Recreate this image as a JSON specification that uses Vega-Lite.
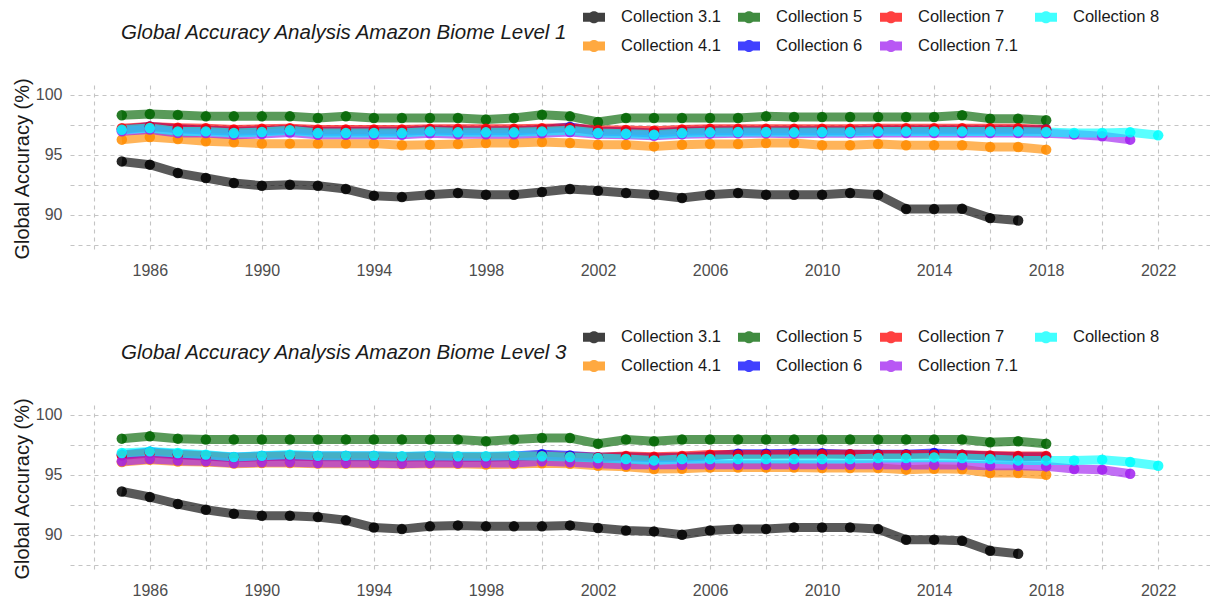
{
"$schema": "https://vega.github.io/schema/vega-lite/v6.json",
"background": "white",
"padding": {"left": 12, "top": 6, "right": 0, "bottom": 0},
"config": {
  "font": "Liberation Sans",
  "view": {"stroke": null},
  "axis": {"domain": false, "ticks": false, "grid": true, "gridColor": "#c4c4c4", "gridDash": [4, 4], "gridWidth": 1.1, "labelFont": "Liberation Sans", "labelFontSize": 16, "labelColor": "#4d4d4d", "titleFont": "Liberation Sans", "titleFontSize": 20, "titleColor": "#1a1a1a", "titleFontWeight": "normal", "labelOverlap": false, "labelFlush": false},
  "title": {"font": "Liberation Sans", "fontSize": 20.5, "fontStyle": "italic", "fontWeight": "normal", "color": "#1a1a1a", "anchor": "start", "frame": "group", "offset": 0, "dx": 51, "dy": 41}
},
"datasets": {
"level1": [
{"series":"Collection 3.1","year":1985,"acc":94.44},{"series":"Collection 3.1","year":1986,"acc":94.17},{"series":"Collection 3.1","year":1987,"acc":93.47},{"series":"Collection 3.1","year":1988,"acc":93.06},{"series":"Collection 3.1","year":1989,"acc":92.64},{"series":"Collection 3.1","year":1990,"acc":92.42},{"series":"Collection 3.1","year":1991,"acc":92.5},{"series":"Collection 3.1","year":1992,"acc":92.42},{"series":"Collection 3.1","year":1993,"acc":92.14},{"series":"Collection 3.1","year":1994,"acc":91.58},{"series":"Collection 3.1","year":1995,"acc":91.47},{"series":"Collection 3.1","year":1996,"acc":91.67},{"series":"Collection 3.1","year":1997,"acc":91.81},{"series":"Collection 3.1","year":1998,"acc":91.67},{"series":"Collection 3.1","year":1999,"acc":91.67},{"series":"Collection 3.1","year":2000,"acc":91.89},{"series":"Collection 3.1","year":2001,"acc":92.14},{"series":"Collection 3.1","year":2002,"acc":92.0},{"series":"Collection 3.1","year":2003,"acc":91.81},{"series":"Collection 3.1","year":2004,"acc":91.67},{"series":"Collection 3.1","year":2005,"acc":91.39},{"series":"Collection 3.1","year":2006,"acc":91.67},{"series":"Collection 3.1","year":2007,"acc":91.81},{"series":"Collection 3.1","year":2008,"acc":91.67},{"series":"Collection 3.1","year":2009,"acc":91.67},{"series":"Collection 3.1","year":2010,"acc":91.67},{"series":"Collection 3.1","year":2011,"acc":91.81},{"series":"Collection 3.1","year":2012,"acc":91.67},{"series":"Collection 3.1","year":2013,"acc":90.47},{"series":"Collection 3.1","year":2014,"acc":90.47},{"series":"Collection 3.1","year":2015,"acc":90.5},{"series":"Collection 3.1","year":2016,"acc":89.72},{"series":"Collection 3.1","year":2017,"acc":89.52},
{"series":"Collection 4.1","year":1985,"acc":96.25},{"series":"Collection 4.1","year":1986,"acc":96.47},{"series":"Collection 4.1","year":1987,"acc":96.31},{"series":"Collection 4.1","year":1988,"acc":96.11},{"series":"Collection 4.1","year":1989,"acc":96.03},{"series":"Collection 4.1","year":1990,"acc":95.92},{"series":"Collection 4.1","year":1991,"acc":95.92},{"series":"Collection 4.1","year":1992,"acc":95.92},{"series":"Collection 4.1","year":1993,"acc":95.92},{"series":"Collection 4.1","year":1994,"acc":95.92},{"series":"Collection 4.1","year":1995,"acc":95.78},{"series":"Collection 4.1","year":1996,"acc":95.83},{"series":"Collection 4.1","year":1997,"acc":95.89},{"series":"Collection 4.1","year":1998,"acc":95.97},{"series":"Collection 4.1","year":1999,"acc":95.97},{"series":"Collection 4.1","year":2000,"acc":96.06},{"series":"Collection 4.1","year":2001,"acc":95.97},{"series":"Collection 4.1","year":2002,"acc":95.83},{"series":"Collection 4.1","year":2003,"acc":95.83},{"series":"Collection 4.1","year":2004,"acc":95.69},{"series":"Collection 4.1","year":2005,"acc":95.83},{"series":"Collection 4.1","year":2006,"acc":95.89},{"series":"Collection 4.1","year":2007,"acc":95.89},{"series":"Collection 4.1","year":2008,"acc":95.97},{"series":"Collection 4.1","year":2009,"acc":95.97},{"series":"Collection 4.1","year":2010,"acc":95.78},{"series":"Collection 4.1","year":2011,"acc":95.78},{"series":"Collection 4.1","year":2012,"acc":95.89},{"series":"Collection 4.1","year":2013,"acc":95.78},{"series":"Collection 4.1","year":2014,"acc":95.78},{"series":"Collection 4.1","year":2015,"acc":95.78},{"series":"Collection 4.1","year":2016,"acc":95.64},{"series":"Collection 4.1","year":2017,"acc":95.64},{"series":"Collection 4.1","year":2018,"acc":95.42},
{"series":"Collection 5","year":1985,"acc":98.28},{"series":"Collection 5","year":1986,"acc":98.39},{"series":"Collection 5","year":1987,"acc":98.31},{"series":"Collection 5","year":1988,"acc":98.19},{"series":"Collection 5","year":1989,"acc":98.19},{"series":"Collection 5","year":1990,"acc":98.19},{"series":"Collection 5","year":1991,"acc":98.19},{"series":"Collection 5","year":1992,"acc":98.06},{"series":"Collection 5","year":1993,"acc":98.19},{"series":"Collection 5","year":1994,"acc":98.06},{"series":"Collection 5","year":1995,"acc":98.06},{"series":"Collection 5","year":1996,"acc":98.06},{"series":"Collection 5","year":1997,"acc":98.06},{"series":"Collection 5","year":1998,"acc":97.92},{"series":"Collection 5","year":1999,"acc":98.06},{"series":"Collection 5","year":2000,"acc":98.33},{"series":"Collection 5","year":2001,"acc":98.19},{"series":"Collection 5","year":2002,"acc":97.72},{"series":"Collection 5","year":2003,"acc":98.06},{"series":"Collection 5","year":2004,"acc":98.06},{"series":"Collection 5","year":2005,"acc":98.06},{"series":"Collection 5","year":2006,"acc":98.06},{"series":"Collection 5","year":2007,"acc":98.06},{"series":"Collection 5","year":2008,"acc":98.19},{"series":"Collection 5","year":2009,"acc":98.14},{"series":"Collection 5","year":2010,"acc":98.14},{"series":"Collection 5","year":2011,"acc":98.14},{"series":"Collection 5","year":2012,"acc":98.14},{"series":"Collection 5","year":2013,"acc":98.14},{"series":"Collection 5","year":2014,"acc":98.14},{"series":"Collection 5","year":2015,"acc":98.28},{"series":"Collection 5","year":2016,"acc":98.0},{"series":"Collection 5","year":2017,"acc":98.0},{"series":"Collection 5","year":2018,"acc":97.86},
{"series":"Collection 6","year":1985,"acc":97.1},{"series":"Collection 6","year":1986,"acc":97.35},{"series":"Collection 6","year":1987,"acc":97.15},{"series":"Collection 6","year":1988,"acc":97.05},{"series":"Collection 6","year":1989,"acc":96.95},{"series":"Collection 6","year":1990,"acc":97.0},{"series":"Collection 6","year":1991,"acc":97.1},{"series":"Collection 6","year":1992,"acc":96.95},{"series":"Collection 6","year":1993,"acc":96.95},{"series":"Collection 6","year":1994,"acc":96.95},{"series":"Collection 6","year":1995,"acc":96.95},{"series":"Collection 6","year":1996,"acc":97.05},{"series":"Collection 6","year":1997,"acc":97.0},{"series":"Collection 6","year":1998,"acc":97.0},{"series":"Collection 6","year":1999,"acc":97.0},{"series":"Collection 6","year":2000,"acc":97.1},{"series":"Collection 6","year":2001,"acc":97.3},{"series":"Collection 6","year":2002,"acc":96.95},{"series":"Collection 6","year":2003,"acc":96.9},{"series":"Collection 6","year":2004,"acc":96.8},{"series":"Collection 6","year":2005,"acc":96.95},{"series":"Collection 6","year":2006,"acc":97.0},{"series":"Collection 6","year":2007,"acc":97.0},{"series":"Collection 6","year":2008,"acc":97.0},{"series":"Collection 6","year":2009,"acc":97.0},{"series":"Collection 6","year":2010,"acc":97.0},{"series":"Collection 6","year":2011,"acc":97.0},{"series":"Collection 6","year":2012,"acc":97.05},{"series":"Collection 6","year":2013,"acc":97.05},{"series":"Collection 6","year":2014,"acc":97.05},{"series":"Collection 6","year":2015,"acc":97.05},{"series":"Collection 6","year":2016,"acc":97.05},{"series":"Collection 6","year":2017,"acc":97.05},{"series":"Collection 6","year":2018,"acc":97.1},
{"series":"Collection 7","year":1985,"acc":97.2},{"series":"Collection 7","year":1986,"acc":97.35},{"series":"Collection 7","year":1987,"acc":97.25},{"series":"Collection 7","year":1988,"acc":97.2},{"series":"Collection 7","year":1989,"acc":97.1},{"series":"Collection 7","year":1990,"acc":97.15},{"series":"Collection 7","year":1991,"acc":97.2},{"series":"Collection 7","year":1992,"acc":97.1},{"series":"Collection 7","year":1993,"acc":97.1},{"series":"Collection 7","year":1994,"acc":97.1},{"series":"Collection 7","year":1995,"acc":97.1},{"series":"Collection 7","year":1996,"acc":97.15},{"series":"Collection 7","year":1997,"acc":97.15},{"series":"Collection 7","year":1998,"acc":97.15},{"series":"Collection 7","year":1999,"acc":97.15},{"series":"Collection 7","year":2000,"acc":97.2},{"series":"Collection 7","year":2001,"acc":97.25},{"series":"Collection 7","year":2002,"acc":97.05},{"series":"Collection 7","year":2003,"acc":97.05},{"series":"Collection 7","year":2004,"acc":97.0},{"series":"Collection 7","year":2005,"acc":97.1},{"series":"Collection 7","year":2006,"acc":97.15},{"series":"Collection 7","year":2007,"acc":97.15},{"series":"Collection 7","year":2008,"acc":97.15},{"series":"Collection 7","year":2009,"acc":97.15},{"series":"Collection 7","year":2010,"acc":97.15},{"series":"Collection 7","year":2011,"acc":97.15},{"series":"Collection 7","year":2012,"acc":97.2},{"series":"Collection 7","year":2013,"acc":97.2},{"series":"Collection 7","year":2014,"acc":97.2},{"series":"Collection 7","year":2015,"acc":97.2},{"series":"Collection 7","year":2016,"acc":97.2},{"series":"Collection 7","year":2017,"acc":97.2},{"series":"Collection 7","year":2018,"acc":97.1},
{"series":"Collection 7.1","year":1985,"acc":96.95},{"series":"Collection 7.1","year":1986,"acc":97.1},{"series":"Collection 7.1","year":1987,"acc":96.8},{"series":"Collection 7.1","year":1988,"acc":96.8},{"series":"Collection 7.1","year":1989,"acc":96.65},{"series":"Collection 7.1","year":1990,"acc":96.72},{"series":"Collection 7.1","year":1991,"acc":96.85},{"series":"Collection 7.1","year":1992,"acc":96.65},{"series":"Collection 7.1","year":1993,"acc":96.65},{"series":"Collection 7.1","year":1994,"acc":96.65},{"series":"Collection 7.1","year":1995,"acc":96.65},{"series":"Collection 7.1","year":1996,"acc":96.78},{"series":"Collection 7.1","year":1997,"acc":96.7},{"series":"Collection 7.1","year":1998,"acc":96.7},{"series":"Collection 7.1","year":1999,"acc":96.7},{"series":"Collection 7.1","year":2000,"acc":96.78},{"series":"Collection 7.1","year":2001,"acc":96.88},{"series":"Collection 7.1","year":2002,"acc":96.7},{"series":"Collection 7.1","year":2003,"acc":96.65},{"series":"Collection 7.1","year":2004,"acc":96.58},{"series":"Collection 7.1","year":2005,"acc":96.7},{"series":"Collection 7.1","year":2006,"acc":96.75},{"series":"Collection 7.1","year":2007,"acc":96.78},{"series":"Collection 7.1","year":2008,"acc":96.78},{"series":"Collection 7.1","year":2009,"acc":96.75},{"series":"Collection 7.1","year":2010,"acc":96.78},{"series":"Collection 7.1","year":2011,"acc":96.78},{"series":"Collection 7.1","year":2012,"acc":96.8},{"series":"Collection 7.1","year":2013,"acc":96.8},{"series":"Collection 7.1","year":2014,"acc":96.8},{"series":"Collection 7.1","year":2015,"acc":96.8},{"series":"Collection 7.1","year":2016,"acc":96.8},{"series":"Collection 7.1","year":2017,"acc":96.8},{"series":"Collection 7.1","year":2018,"acc":96.78},{"series":"Collection 7.1","year":2019,"acc":96.67},{"series":"Collection 7.1","year":2020,"acc":96.53},{"series":"Collection 7.1","year":2021,"acc":96.25},
{"series":"Collection 8","year":1985,"acc":97.08},{"series":"Collection 8","year":1986,"acc":97.22},{"series":"Collection 8","year":1987,"acc":96.94},{"series":"Collection 8","year":1988,"acc":96.94},{"series":"Collection 8","year":1989,"acc":96.81},{"series":"Collection 8","year":1990,"acc":96.89},{"series":"Collection 8","year":1991,"acc":97.03},{"series":"Collection 8","year":1992,"acc":96.81},{"series":"Collection 8","year":1993,"acc":96.81},{"series":"Collection 8","year":1994,"acc":96.81},{"series":"Collection 8","year":1995,"acc":96.81},{"series":"Collection 8","year":1996,"acc":96.94},{"series":"Collection 8","year":1997,"acc":96.86},{"series":"Collection 8","year":1998,"acc":96.86},{"series":"Collection 8","year":1999,"acc":96.86},{"series":"Collection 8","year":2000,"acc":96.94},{"series":"Collection 8","year":2001,"acc":97.03},{"series":"Collection 8","year":2002,"acc":96.81},{"series":"Collection 8","year":2003,"acc":96.75},{"series":"Collection 8","year":2004,"acc":96.67},{"series":"Collection 8","year":2005,"acc":96.81},{"series":"Collection 8","year":2006,"acc":96.86},{"series":"Collection 8","year":2007,"acc":96.89},{"series":"Collection 8","year":2008,"acc":96.89},{"series":"Collection 8","year":2009,"acc":96.86},{"series":"Collection 8","year":2010,"acc":96.89},{"series":"Collection 8","year":2011,"acc":96.89},{"series":"Collection 8","year":2012,"acc":96.94},{"series":"Collection 8","year":2013,"acc":96.94},{"series":"Collection 8","year":2014,"acc":96.94},{"series":"Collection 8","year":2015,"acc":96.94},{"series":"Collection 8","year":2016,"acc":96.94},{"series":"Collection 8","year":2017,"acc":96.94},{"series":"Collection 8","year":2018,"acc":96.89},{"series":"Collection 8","year":2019,"acc":96.81},{"series":"Collection 8","year":2020,"acc":96.81},{"series":"Collection 8","year":2021,"acc":96.86},{"series":"Collection 8","year":2022,"acc":96.61}
],
"level3": [
{"series":"Collection 3.1","year":1985,"acc":93.6},{"series":"Collection 3.1","year":1986,"acc":93.14},{"series":"Collection 3.1","year":1987,"acc":92.56},{"series":"Collection 3.1","year":1988,"acc":92.08},{"series":"Collection 3.1","year":1989,"acc":91.75},{"series":"Collection 3.1","year":1990,"acc":91.58},{"series":"Collection 3.1","year":1991,"acc":91.58},{"series":"Collection 3.1","year":1992,"acc":91.47},{"series":"Collection 3.1","year":1993,"acc":91.2},{"series":"Collection 3.1","year":1994,"acc":90.6},{"series":"Collection 3.1","year":1995,"acc":90.47},{"series":"Collection 3.1","year":1996,"acc":90.7},{"series":"Collection 3.1","year":1997,"acc":90.78},{"series":"Collection 3.1","year":1998,"acc":90.7},{"series":"Collection 3.1","year":1999,"acc":90.7},{"series":"Collection 3.1","year":2000,"acc":90.7},{"series":"Collection 3.1","year":2001,"acc":90.78},{"series":"Collection 3.1","year":2002,"acc":90.56},{"series":"Collection 3.1","year":2003,"acc":90.36},{"series":"Collection 3.1","year":2004,"acc":90.28},{"series":"Collection 3.1","year":2005,"acc":90.0},{"series":"Collection 3.1","year":2006,"acc":90.36},{"series":"Collection 3.1","year":2007,"acc":90.47},{"series":"Collection 3.1","year":2008,"acc":90.47},{"series":"Collection 3.1","year":2009,"acc":90.6},{"series":"Collection 3.1","year":2010,"acc":90.6},{"series":"Collection 3.1","year":2011,"acc":90.6},{"series":"Collection 3.1","year":2012,"acc":90.47},{"series":"Collection 3.1","year":2013,"acc":89.58},{"series":"Collection 3.1","year":2014,"acc":89.58},{"series":"Collection 3.1","year":2015,"acc":89.5},{"series":"Collection 3.1","year":2016,"acc":88.67},{"series":"Collection 3.1","year":2017,"acc":88.42},
{"series":"Collection 4.1","year":1985,"acc":96.05},{"series":"Collection 4.1","year":1986,"acc":96.25},{"series":"Collection 4.1","year":1987,"acc":96.1},{"series":"Collection 4.1","year":1988,"acc":96.05},{"series":"Collection 4.1","year":1989,"acc":95.92},{"series":"Collection 4.1","year":1990,"acc":95.97},{"series":"Collection 4.1","year":1991,"acc":95.97},{"series":"Collection 4.1","year":1992,"acc":95.92},{"series":"Collection 4.1","year":1993,"acc":95.92},{"series":"Collection 4.1","year":1994,"acc":95.92},{"series":"Collection 4.1","year":1995,"acc":95.88},{"series":"Collection 4.1","year":1996,"acc":95.92},{"series":"Collection 4.1","year":1997,"acc":95.9},{"series":"Collection 4.1","year":1998,"acc":95.85},{"series":"Collection 4.1","year":1999,"acc":95.88},{"series":"Collection 4.1","year":2000,"acc":95.95},{"series":"Collection 4.1","year":2001,"acc":95.9},{"series":"Collection 4.1","year":2002,"acc":95.75},{"series":"Collection 4.1","year":2003,"acc":95.65},{"series":"Collection 4.1","year":2004,"acc":95.47},{"series":"Collection 4.1","year":2005,"acc":95.5},{"series":"Collection 4.1","year":2006,"acc":95.6},{"series":"Collection 4.1","year":2007,"acc":95.6},{"series":"Collection 4.1","year":2008,"acc":95.6},{"series":"Collection 4.1","year":2009,"acc":95.6},{"series":"Collection 4.1","year":2010,"acc":95.55},{"series":"Collection 4.1","year":2011,"acc":95.55},{"series":"Collection 4.1","year":2012,"acc":95.55},{"series":"Collection 4.1","year":2013,"acc":95.42},{"series":"Collection 4.1","year":2014,"acc":95.5},{"series":"Collection 4.1","year":2015,"acc":95.45},{"series":"Collection 4.1","year":2016,"acc":95.14},{"series":"Collection 4.1","year":2017,"acc":95.14},{"series":"Collection 4.1","year":2018,"acc":95.0},
{"series":"Collection 5","year":1985,"acc":98.0},{"series":"Collection 5","year":1986,"acc":98.19},{"series":"Collection 5","year":1987,"acc":98.0},{"series":"Collection 5","year":1988,"acc":97.92},{"series":"Collection 5","year":1989,"acc":97.92},{"series":"Collection 5","year":1990,"acc":97.92},{"series":"Collection 5","year":1991,"acc":97.92},{"series":"Collection 5","year":1992,"acc":97.92},{"series":"Collection 5","year":1993,"acc":97.92},{"series":"Collection 5","year":1994,"acc":97.92},{"series":"Collection 5","year":1995,"acc":97.92},{"series":"Collection 5","year":1996,"acc":97.92},{"series":"Collection 5","year":1997,"acc":97.92},{"series":"Collection 5","year":1998,"acc":97.78},{"series":"Collection 5","year":1999,"acc":97.92},{"series":"Collection 5","year":2000,"acc":98.05},{"series":"Collection 5","year":2001,"acc":98.05},{"series":"Collection 5","year":2002,"acc":97.58},{"series":"Collection 5","year":2003,"acc":97.92},{"series":"Collection 5","year":2004,"acc":97.78},{"series":"Collection 5","year":2005,"acc":97.92},{"series":"Collection 5","year":2006,"acc":97.92},{"series":"Collection 5","year":2007,"acc":97.92},{"series":"Collection 5","year":2008,"acc":97.92},{"series":"Collection 5","year":2009,"acc":97.92},{"series":"Collection 5","year":2010,"acc":97.92},{"series":"Collection 5","year":2011,"acc":97.92},{"series":"Collection 5","year":2012,"acc":97.92},{"series":"Collection 5","year":2013,"acc":97.92},{"series":"Collection 5","year":2014,"acc":97.92},{"series":"Collection 5","year":2015,"acc":97.92},{"series":"Collection 5","year":2016,"acc":97.7},{"series":"Collection 5","year":2017,"acc":97.78},{"series":"Collection 5","year":2018,"acc":97.58},
{"series":"Collection 6","year":1985,"acc":96.65},{"series":"Collection 6","year":1986,"acc":96.9},{"series":"Collection 6","year":1987,"acc":96.7},{"series":"Collection 6","year":1988,"acc":96.6},{"series":"Collection 6","year":1989,"acc":96.45},{"series":"Collection 6","year":1990,"acc":96.55},{"series":"Collection 6","year":1991,"acc":96.6},{"series":"Collection 6","year":1992,"acc":96.55},{"series":"Collection 6","year":1993,"acc":96.55},{"series":"Collection 6","year":1994,"acc":96.55},{"series":"Collection 6","year":1995,"acc":96.5},{"series":"Collection 6","year":1996,"acc":96.55},{"series":"Collection 6","year":1997,"acc":96.5},{"series":"Collection 6","year":1998,"acc":96.5},{"series":"Collection 6","year":1999,"acc":96.55},{"series":"Collection 6","year":2000,"acc":96.7},{"series":"Collection 6","year":2001,"acc":96.6},{"series":"Collection 6","year":2002,"acc":96.45},{"series":"Collection 6","year":2003,"acc":96.5},{"series":"Collection 6","year":2004,"acc":96.4},{"series":"Collection 6","year":2005,"acc":96.45},{"series":"Collection 6","year":2006,"acc":96.55},{"series":"Collection 6","year":2007,"acc":96.75},{"series":"Collection 6","year":2008,"acc":96.75},{"series":"Collection 6","year":2009,"acc":96.78},{"series":"Collection 6","year":2010,"acc":96.78},{"series":"Collection 6","year":2011,"acc":96.7},{"series":"Collection 6","year":2012,"acc":96.7},{"series":"Collection 6","year":2013,"acc":96.7},{"series":"Collection 6","year":2014,"acc":96.8},{"series":"Collection 6","year":2015,"acc":96.65},{"series":"Collection 6","year":2016,"acc":96.55},{"series":"Collection 6","year":2017,"acc":96.5},{"series":"Collection 6","year":2018,"acc":96.5},
{"series":"Collection 7","year":1985,"acc":96.6},{"series":"Collection 7","year":1986,"acc":96.8},{"series":"Collection 7","year":1987,"acc":96.65},{"series":"Collection 7","year":1988,"acc":96.55},{"series":"Collection 7","year":1989,"acc":96.4},{"series":"Collection 7","year":1990,"acc":96.5},{"series":"Collection 7","year":1991,"acc":96.55},{"series":"Collection 7","year":1992,"acc":96.5},{"series":"Collection 7","year":1993,"acc":96.5},{"series":"Collection 7","year":1994,"acc":96.5},{"series":"Collection 7","year":1995,"acc":96.45},{"series":"Collection 7","year":1996,"acc":96.5},{"series":"Collection 7","year":1997,"acc":96.45},{"series":"Collection 7","year":1998,"acc":96.45},{"series":"Collection 7","year":1999,"acc":96.5},{"series":"Collection 7","year":2000,"acc":96.55},{"series":"Collection 7","year":2001,"acc":96.5},{"series":"Collection 7","year":2002,"acc":96.45},{"series":"Collection 7","year":2003,"acc":96.55},{"series":"Collection 7","year":2004,"acc":96.5},{"series":"Collection 7","year":2005,"acc":96.55},{"series":"Collection 7","year":2006,"acc":96.67},{"series":"Collection 7","year":2007,"acc":96.67},{"series":"Collection 7","year":2008,"acc":96.67},{"series":"Collection 7","year":2009,"acc":96.7},{"series":"Collection 7","year":2010,"acc":96.7},{"series":"Collection 7","year":2011,"acc":96.7},{"series":"Collection 7","year":2012,"acc":96.67},{"series":"Collection 7","year":2013,"acc":96.67},{"series":"Collection 7","year":2014,"acc":96.67},{"series":"Collection 7","year":2015,"acc":96.65},{"series":"Collection 7","year":2016,"acc":96.6},{"series":"Collection 7","year":2017,"acc":96.55},{"series":"Collection 7","year":2018,"acc":96.55},
{"series":"Collection 7.1","year":1985,"acc":96.11},{"series":"Collection 7.1","year":1986,"acc":96.31},{"series":"Collection 7.1","year":1987,"acc":96.17},{"series":"Collection 7.1","year":1988,"acc":96.11},{"series":"Collection 7.1","year":1989,"acc":95.97},{"series":"Collection 7.1","year":1990,"acc":96.03},{"series":"Collection 7.1","year":1991,"acc":96.03},{"series":"Collection 7.1","year":1992,"acc":95.97},{"series":"Collection 7.1","year":1993,"acc":95.97},{"series":"Collection 7.1","year":1994,"acc":95.97},{"series":"Collection 7.1","year":1995,"acc":95.92},{"series":"Collection 7.1","year":1996,"acc":95.97},{"series":"Collection 7.1","year":1997,"acc":95.97},{"series":"Collection 7.1","year":1998,"acc":95.97},{"series":"Collection 7.1","year":1999,"acc":95.97},{"series":"Collection 7.1","year":2000,"acc":96.11},{"series":"Collection 7.1","year":2001,"acc":96.03},{"series":"Collection 7.1","year":2002,"acc":95.92},{"series":"Collection 7.1","year":2003,"acc":95.83},{"series":"Collection 7.1","year":2004,"acc":95.83},{"series":"Collection 7.1","year":2005,"acc":95.83},{"series":"Collection 7.1","year":2006,"acc":95.83},{"series":"Collection 7.1","year":2007,"acc":95.83},{"series":"Collection 7.1","year":2008,"acc":95.83},{"series":"Collection 7.1","year":2009,"acc":95.83},{"series":"Collection 7.1","year":2010,"acc":95.83},{"series":"Collection 7.1","year":2011,"acc":95.83},{"series":"Collection 7.1","year":2012,"acc":95.83},{"series":"Collection 7.1","year":2013,"acc":95.8},{"series":"Collection 7.1","year":2014,"acc":95.83},{"series":"Collection 7.1","year":2015,"acc":95.8},{"series":"Collection 7.1","year":2016,"acc":95.75},{"series":"Collection 7.1","year":2017,"acc":95.75},{"series":"Collection 7.1","year":2018,"acc":95.69},{"series":"Collection 7.1","year":2019,"acc":95.47},{"series":"Collection 7.1","year":2020,"acc":95.42},{"series":"Collection 7.1","year":2021,"acc":95.08},
{"series":"Collection 8","year":1985,"acc":96.8},{"series":"Collection 8","year":1986,"acc":96.94},{"series":"Collection 8","year":1987,"acc":96.8},{"series":"Collection 8","year":1988,"acc":96.67},{"series":"Collection 8","year":1989,"acc":96.47},{"series":"Collection 8","year":1990,"acc":96.58},{"series":"Collection 8","year":1991,"acc":96.67},{"series":"Collection 8","year":1992,"acc":96.58},{"series":"Collection 8","year":1993,"acc":96.58},{"series":"Collection 8","year":1994,"acc":96.58},{"series":"Collection 8","year":1995,"acc":96.53},{"series":"Collection 8","year":1996,"acc":96.58},{"series":"Collection 8","year":1997,"acc":96.53},{"series":"Collection 8","year":1998,"acc":96.53},{"series":"Collection 8","year":1999,"acc":96.58},{"series":"Collection 8","year":2000,"acc":96.53},{"series":"Collection 8","year":2001,"acc":96.47},{"series":"Collection 8","year":2002,"acc":96.39},{"series":"Collection 8","year":2003,"acc":96.31},{"series":"Collection 8","year":2004,"acc":96.19},{"series":"Collection 8","year":2005,"acc":96.31},{"series":"Collection 8","year":2006,"acc":96.31},{"series":"Collection 8","year":2007,"acc":96.31},{"series":"Collection 8","year":2008,"acc":96.31},{"series":"Collection 8","year":2009,"acc":96.31},{"series":"Collection 8","year":2010,"acc":96.31},{"series":"Collection 8","year":2011,"acc":96.31},{"series":"Collection 8","year":2012,"acc":96.39},{"series":"Collection 8","year":2013,"acc":96.39},{"series":"Collection 8","year":2014,"acc":96.44},{"series":"Collection 8","year":2015,"acc":96.39},{"series":"Collection 8","year":2016,"acc":96.31},{"series":"Collection 8","year":2017,"acc":96.19},{"series":"Collection 8","year":2018,"acc":96.19},{"series":"Collection 8","year":2019,"acc":96.19},{"series":"Collection 8","year":2020,"acc":96.25},{"series":"Collection 8","year":2021,"acc":96.06},{"series":"Collection 8","year":2022,"acc":95.75}
]
},
"spacing": 153,
"bounds": "flush",
"resolve": {"scale": {"fill": "independent", "stroke": "independent"}, "legend": {"fill": "independent", "stroke": "independent"}},
"vconcat": [
{
  "data": {"name": "level1"},
  "width": 1140, "height": 167,
  "title": {"text": "Global Accuracy Analysis Amazon Biome Level 1"},
  "encoding": {
    "x": {"field": "year", "type": "quantitative", "scale": {"domain": [1983.15, 2023.85], "nice": false, "zero": false},
          "axis": {"title": null, "format": "d", "values": [1984,1986,1988,1990,1992,1994,1996,1998,2000,2002,2004,2006,2008,2010,2012,2014,2016,2018,2020,2022], "labelExpr": "(datum.value - 1986) % 4 === 0 ? datum.label : ''", "labelPadding": 10}},
    "y": {"field": "acc", "type": "quantitative", "scale": {"domain": [86.9, 100.8], "nice": false, "zero": false},
          "axis": {"title": "Global Accuracy (%)", "format": "d", "values": [87.5, 90, 92.5, 95, 97.5, 100], "labelExpr": "datum.value % 5 === 0 ? datum.label : ''", "labelPadding": 8, "titlePadding": 3}}
  },
  "layer": [
    {"mark": {"type": "line", "strokeWidth": 9, "opacity": 0.65, "strokeJoin": "round"},
     "encoding": {"stroke": {"field": "series", "type": "nominal",
        "scale": {"domain": ["Collection 8","Collection 7.1","Collection 7","Collection 6","Collection 5","Collection 4.1","Collection 3.1"], "range": ["#00ffff","#a020f0","#ff0000","#0000ff","#006400","#ff8c00","#000000"]},
        "legend": null}}},
    {"mark": {"type": "point", "filled": true, "size": 110, "opacity": 0.85, "strokeWidth": 0},
     "encoding": {"fill": {"field": "series", "type": "nominal",
        "scale": {"domain": ["Collection 3.1","Collection 4.1","Collection 5","Collection 6","Collection 7","Collection 7.1","Collection 8"], "range": ["#000000","#ff8c00","#006400","#0000ff","#ff0000","#a020f0","#00ffff"]},
        "legend": {"title": null, "orient": "none", "legendX": 513, "legendY": -79, "columns": 4, "padding": 0, "columnPadding": 17, "rowPadding": 9, "labelOffset": 16, "labelFont": "Liberation Sans", "labelFontSize": 16.5, "labelColor": "#1a1a1a", "symbolType": "M-1,-0.42H1V0.42H-1Z M0.55,0A0.55,0.55 0 1,1 -0.55,0A0.55,0.55 0 1,1 0.55,0Z", "symbolSize": 484, "symbolOpacity": 0.75, "symbolStrokeWidth": 0, "labelLimit": 200}}}}
  ]
},
{
  "data": {"name": "level3"},
  "width": 1140, "height": 167,
  "title": {"text": "Global Accuracy Analysis Amazon Biome Level 3"},
  "encoding": {
    "x": {"field": "year", "type": "quantitative", "scale": {"domain": [1983.15, 2023.85], "nice": false, "zero": false},
          "axis": {"title": null, "format": "d", "values": [1984,1986,1988,1990,1992,1994,1996,1998,2000,2002,2004,2006,2008,2010,2012,2014,2016,2018,2020,2022], "labelExpr": "(datum.value - 1986) % 4 === 0 ? datum.label : ''", "labelPadding": 10}},
    "y": {"field": "acc", "type": "quantitative", "scale": {"domain": [86.9, 100.8], "nice": false, "zero": false},
          "axis": {"title": "Global Accuracy (%)", "format": "d", "values": [87.5, 90, 92.5, 95, 97.5, 100], "labelExpr": "datum.value % 5 === 0 ? datum.label : ''", "labelPadding": 8, "titlePadding": 3}}
  },
  "layer": [
    {"mark": {"type": "line", "strokeWidth": 9, "opacity": 0.65, "strokeJoin": "round"},
     "encoding": {"stroke": {"field": "series", "type": "nominal",
        "scale": {"domain": ["Collection 8","Collection 7.1","Collection 7","Collection 6","Collection 5","Collection 4.1","Collection 3.1"], "range": ["#00ffff","#a020f0","#ff0000","#0000ff","#006400","#ff8c00","#000000"]},
        "legend": null}}},
    {"mark": {"type": "point", "filled": true, "size": 110, "opacity": 0.85, "strokeWidth": 0},
     "encoding": {"fill": {"field": "series", "type": "nominal",
        "scale": {"domain": ["Collection 3.1","Collection 4.1","Collection 5","Collection 6","Collection 7","Collection 7.1","Collection 8"], "range": ["#000000","#ff8c00","#006400","#0000ff","#ff0000","#a020f0","#00ffff"]},
        "legend": {"title": null, "orient": "none", "legendX": 513, "legendY": -79, "columns": 4, "padding": 0, "columnPadding": 17, "rowPadding": 9, "labelOffset": 16, "labelFont": "Liberation Sans", "labelFontSize": 16.5, "labelColor": "#1a1a1a", "symbolType": "M-1,-0.42H1V0.42H-1Z M0.55,0A0.55,0.55 0 1,1 -0.55,0A0.55,0.55 0 1,1 0.55,0Z", "symbolSize": 484, "symbolOpacity": 0.75, "symbolStrokeWidth": 0, "labelLimit": 200}}}}
  ]
}
]
}
